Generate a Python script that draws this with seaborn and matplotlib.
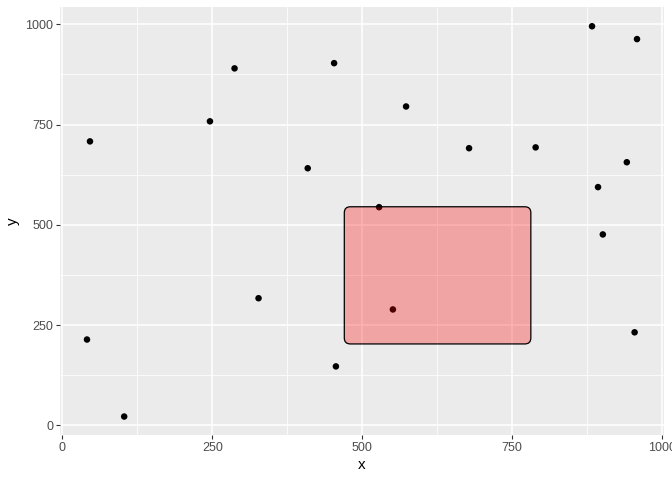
import numpy as np
import pandas as pd
import matplotlib
matplotlib.use("Agg")
import matplotlib.pyplot as plt
from matplotlib.patches import FancyBboxPatch
import seaborn as sns

# point data
x_vals = [46, 41, 103, 246, 287, 327, 409, 453, 456, 528,
          551, 573, 678, 789, 883, 958, 893, 941, 901, 954]
y_vals = [708, 214, 22, 758, 890, 317, 641, 903, 147, 544,
          289, 795, 691, 693, 995, 963, 594, 656, 476, 232]

# highlighted rectangle (xmin, xmax, ymin, ymax)
rect_x = [470, 781]
rect_y = [203, 545]

x_major = [0, 250, 500, 750, 1000]
y_major = [0, 250, 500, 750, 1000]

df = pd.DataFrame({"x": x_vals, "y": y_vals})

sns.set_theme(style="darkgrid")
plt.rcParams["font.family"] = ["Liberation Sans", "DejaVu Sans"]

fig = plt.figure(figsize=(6.72, 4.8), dpi=100)
ax = fig.add_axes([60 / 672, 45 / 480, 604 / 672, 428 / 480])
ax.set_facecolor("#EBEBEB")

sns.scatterplot(data=df, x="x", y="y", color="black", s=22,
                edgecolor="none", ax=ax, zorder=3)

# rounded rectangle on top of the points
xr = 1007 / 604.0   # data units per pixel, x
yr = 1067 / 428.0   # data units per pixel, y
box = FancyBboxPatch((rect_x[0], rect_y[0]), rect_x[1] - rect_x[0], rect_y[1] - rect_y[0],
                     boxstyle="round,pad=0,rounding_size=%f" % (6 * xr),
                     mutation_aspect=yr / xr,
                     facecolor=(1, 0, 0, 0.3), edgecolor="black", linewidth=0.9, zorder=4)
ax.add_patch(box)

ax.set_xlim(-4, 1003)
ax.set_ylim(-24, 1043)
ax.set_xticks(x_major)
ax.set_yticks(y_major)
ax.set_xticks([125, 375, 625, 875], minor=True)
ax.set_yticks([125, 375, 625, 875], minor=True)
ax.grid(which="major", color="white", linewidth=1.1)
ax.grid(which="minor", color="white", linewidth=0.55)
ax.set_axisbelow(True)
for s in ax.spines.values():
    s.set_visible(False)

ax.tick_params(axis="both", which="major", length=3, width=0.8, color="#333333",
               labelsize=9, labelcolor="#4D4D4D", pad=2, bottom=True, left=True)
ax.tick_params(axis="both", which="minor", length=0)
ax.set_xlabel("x", fontsize=11, color="black", labelpad=3)
ax.set_ylabel("y", fontsize=11, color="black", labelpad=4)

fig.savefig("out.png", dpi=100, facecolor="white")
